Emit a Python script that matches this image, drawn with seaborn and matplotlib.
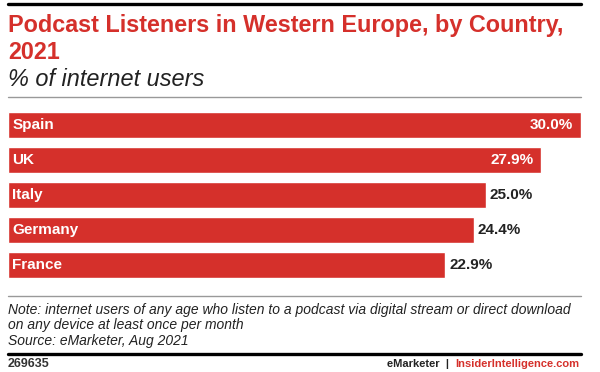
import numpy as np
import pandas as pd
import seaborn as sns
import matplotlib.pyplot as plt
from matplotlib.lines import Line2D

countries = ["Spain", "UK", "Italy", "Germany", "France"]
values = [30.0, 27.9, 25.0, 24.4, 22.9]

title = "Podcast Listeners in Western Europe, by Country,\n2021"
subtitle = "% of internet users"
note = ("Note: internet users of any age who listen to a podcast via digital stream or direct download\n"
        "on any device at least once per month\n"
        "Source: eMarketer, Aug 2021")
chart_id = "269635"

RED = "#d5302b"
W, H = 600, 372

sns.set_theme(style="white")
plt.rcParams["font.family"] = ["Liberation Sans", "DejaVu Sans"]

fig = plt.figure(figsize=(W / 100, H / 100), dpi=100)


def fx(px):
    return px / W


def fy(py):
    return 1 - py / H


# bars area: x 8..581 px, y 107.5..282.5 px
ax = fig.add_axes([fx(8), fy(282.5), fx(573), 175 / H])
df = pd.DataFrame({"country": countries, "value": values})
sns.barplot(data=df, x="value", y="country", orient="h", color=RED,
            saturation=1, width=0.74, ax=ax)
ax.set_xlim(0, 30)
ax.set_ylim(4.5, -0.5)
ax.axis("off")

for i, (c, v) in enumerate(zip(countries, values)):
    ax.text(0.22, i, c, color="white", fontsize=11, fontweight="bold",
            va="center", ha="left")
    label = f"{v:.1f}%"
    if v > 26:
        ax.text(v - 0.4, i, label, color="white", fontsize=11,
                fontweight="bold", va="center", ha="right")
    else:
        ax.text(v + 0.2, i, label, color="#222222", fontsize=11,
                fontweight="bold", va="center", ha="left")

# rules
fig.add_artist(Line2D([fx(8), fx(581)], [fy(4), fy(4)], color="black", lw=2.4))
fig.add_artist(Line2D([fx(8), fx(581)], [fy(97), fy(97)], color="#999999", lw=1.0))
fig.add_artist(Line2D([fx(8), fx(581)], [fy(296), fy(296)], color="#999999", lw=1.0))
fig.add_artist(Line2D([fx(8), fx(581)], [fy(354), fy(354)], color="black", lw=2.4))

fig.text(fx(8), fy(14), title, color=RED, fontsize=16.8, fontweight="bold",
         va="top", ha="left", linespacing=1.2)
fig.text(fx(8), fy(68), subtitle, color="#222222", fontsize=16.9,
         fontstyle="italic", va="top", ha="left")
fig.text(fx(8), fy(303), note, color="#222222", fontsize=10,
         fontstyle="italic", va="top", ha="left", linespacing=1.12)
fig.text(fx(8), fy(364), chart_id, color="#333333", fontsize=9,
         fontweight="bold", va="center", ha="left")

t2 = fig.text(fx(579), fy(364), "InsiderIntelligence.com", color=RED,
              fontsize=8, fontweight="bold", va="center", ha="right")
fig.canvas.draw()
bb = t2.get_window_extent()
fig.text(bb.x0 / W, fy(364), "eMarketer  |  ", color="#222222", fontsize=8,
         fontweight="bold", va="center", ha="right")

fig.savefig("out.png", dpi=100)
